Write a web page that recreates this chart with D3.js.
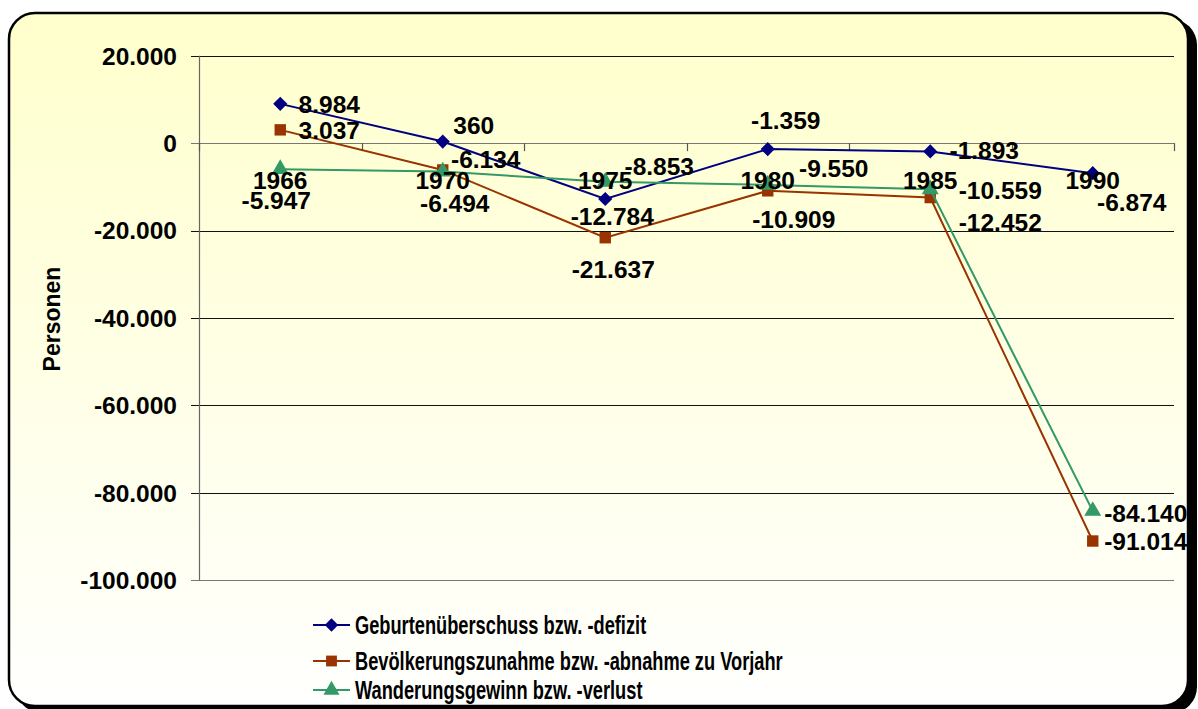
<!DOCTYPE html>
<html>
<head>
<meta charset="utf-8">
<script src="https://cdn.jsdelivr.net/npm/d3@7"></script>
<style>
  html, body { margin: 0; padding: 0; background: #fff; }
  svg { display: block; font-family: Arial, "Liberation Sans", sans-serif; font-weight: bold; }
</style>
</head>
<body>
<div id="chart"></div>
<script>
'use strict';

// chart data
const years = ['1966', '1970', '1975', '1980', '1985', '1990'];
const geburten = [8984, 360, -12784, -1359, -1893, -6874];
const bevoelkerung = [3037, -6134, -21637, -10909, -12452, -91014];
const wanderung = [-5947, -6494, -8853, -9550, -10559, -84140];
const seriesNames = [
    'Geburtenüberschuss bzw. -defizit',
    'Bevölkerungszunahme bzw. -abnahme zu Vorjahr',
    'Wanderungsgewinn bzw. -verlust'
];
const yTicks = [20000, 0, -20000, -40000, -60000, -80000, -100000];

// where each data label sits relative to its point (dx, dy)
const labelOffsets = [
    [[49, 0], [31, -16], [7, 17], [18, -29], [54, -1], [39, 29]],
    [[49, 0], [43, -11], [8, 31], [26, 28], [70, 25], [53, 0]],
    [[-4, 31], [12, 32], [54, -16], [66, -17], [70, 1], [53, 2]]
];

const width = 1198, height = 709;
const margin = {top: 55.7, right: 24, bottom: 128.7, left: 199};

const fmt = d3.formatLocale({
    decimal: ',', thousands: '.', grouping: [3], currency: ['', ' €'], minus: '-'
}).format(',d');

// diamond = square turned by 45 degrees
const styles = [
    {color: '#000080', marker: d3.symbolSquare, size: 100, rotate: 45},
    {color: '#993300', marker: d3.symbolSquare, size: 130, rotate: 0},
    {color: '#339966', marker: d3.symbolTriangle, size: 125, rotate: 0}
];
const allSeries = [geburten, bevoelkerung, wanderung];

const svg = d3.select('#chart').append('svg')
    .attr('width', width)
    .attr('height', height);

// background frame with gradient and shadow
const defs = svg.append('defs');
const grad = defs.append('linearGradient')
    .attr('id', 'bg').attr('x1', 0).attr('y1', 0).attr('x2', 0).attr('y2', 1);
grad.append('stop').attr('offset', '0%').attr('stop-color', '#ffffcc');
grad.append('stop').attr('offset', '100%').attr('stop-color', '#fffffe');

svg.append('rect')
    .attr('x', 16).attr('y', 19)
    .attr('width', 1181).attr('height', 694)
    .attr('rx', 26)
    .attr('fill', '#000');
svg.append('rect')
    .attr('x', 9).attr('y', 13)
    .attr('width', 1179).attr('height', 693)
    .attr('rx', 26)
    .attr('fill', 'url(#bg)')
    .attr('stroke', '#000')
    .attr('stroke-width', 2.5);

const x = d3.scaleBand()
    .domain(years)
    .range([margin.left, width - margin.right]);

const y = d3.scaleLinear()
    .domain([-100000, 20000])
    .range([height - margin.bottom, margin.top]);

const cx = d => x(d) + x.bandwidth() / 2;

// horizontal grid lines
svg.append('g')
    .selectAll('line')
    .data(yTicks)
    .join('line')
    .attr('x1', margin.left - 8)
    .attr('x2', width - margin.right)
    .attr('y1', d => Math.round(y(d)) + 0.5)
    .attr('y2', d => Math.round(y(d)) + 0.5)
    .attr('stroke', d => (d === 0 || d === -100000) ? '#777' : '#111')
    .attr('stroke-width', 1.2);

// y axis line and labels
svg.append('line')
    .attr('x1', margin.left + 0.5).attr('x2', margin.left + 0.5)
    .attr('y1', y(20000)).attr('y2', y(-100000))
    .attr('stroke', '#666').attr('stroke-width', 1.2);

svg.append('g')
    .selectAll('text')
    .data(yTicks)
    .join('text')
    .attr('x', margin.left - 22)
    .attr('y', d => y(d))
    .attr('dy', '0.36em')
    .attr('text-anchor', 'end')
    .attr('font-size', 24.5)
    .attr('fill', '#000')
    .text(d => fmt(d));

svg.append('text')
    .attr('transform', `translate(60,${(y(20000) + y(-100000)) / 2 + 1}) rotate(-90)`)
    .attr('text-anchor', 'middle')
    .attr('font-size', 23)
    .text('Personen');

// category ticks on the zero line
const xEdges = years.map(d => x(d)).concat([x.range()[1]]);
svg.append('g')
    .selectAll('line')
    .data(xEdges)
    .join('line')
    .attr('x1', d => Math.round(d) + 0.5)
    .attr('x2', d => Math.round(d) + 0.5)
    .attr('y1', y(0))
    .attr('y2', y(0) + 8)
    .attr('stroke', '#555')
    .attr('stroke-width', 1.2);

// lines and markers
const line = d3.line()
    .x((d, i) => cx(years[i]))
    .y(d => y(d));

allSeries.forEach((values, s) => {
    const g = svg.append('g');
    g.append('path')
        .datum(values)
        .attr('fill', 'none')
        .attr('stroke', styles[s].color)
        .attr('stroke-width', 2)
        .attr('d', line);
    g.selectAll('path.marker')
        .data(values)
        .join('path')
        .attr('class', 'marker')
        .attr('transform', (d, i) =>
            `translate(${cx(years[i])},${y(d)}) rotate(${styles[s].rotate})`)
        .attr('fill', styles[s].color)
        .attr('d', d3.symbol().type(styles[s].marker).size(styles[s].size));
});

// year labels
svg.append('g')
    .selectAll('text')
    .data(years)
    .join('text')
    .attr('x', d => cx(d))
    .attr('y', y(0) + 37)
    .attr('dy', '0.36em')
    .attr('text-anchor', 'middle')
    .attr('font-size', 24.5)
    .text(d => d);

// data labels
allSeries.forEach((values, s) => {
    svg.append('g')
        .selectAll('text')
        .data(values)
        .join('text')
        .attr('x', (d, i) => cx(years[i]) + labelOffsets[s][i][0])
        .attr('y', (d, i) => y(d) + labelOffsets[s][i][1])
        .attr('dy', '0.36em')
        .attr('text-anchor', 'middle')
        .attr('font-size', 24.5)
        .text(d => fmt(d));
});

// legend
const legendRows = [625, 661, 690];
const legend = svg.append('g');
seriesNames.forEach((name, s) => {
    const row = legend.append('g')
        .attr('transform', `translate(313,${legendRows[s]})`);
    row.append('line')
        .attr('x1', 0).attr('x2', 37)
        .attr('stroke', styles[s].color)
        .attr('stroke-width', 2);
    row.append('path')
        .attr('transform', `translate(18.5,0) rotate(${styles[s].rotate})`)
        .attr('fill', styles[s].color)
        .attr('d', d3.symbol().type(styles[s].marker).size(styles[s].size * 0.9));
    // the legend text is narrow in the original
    row.append('text')
        .attr('transform', 'translate(42,0) scale(0.73,1)')
        .attr('dy', '0.36em')
        .attr('font-size', 25)
        .text(name);
});
</script>
</body>
</html>
